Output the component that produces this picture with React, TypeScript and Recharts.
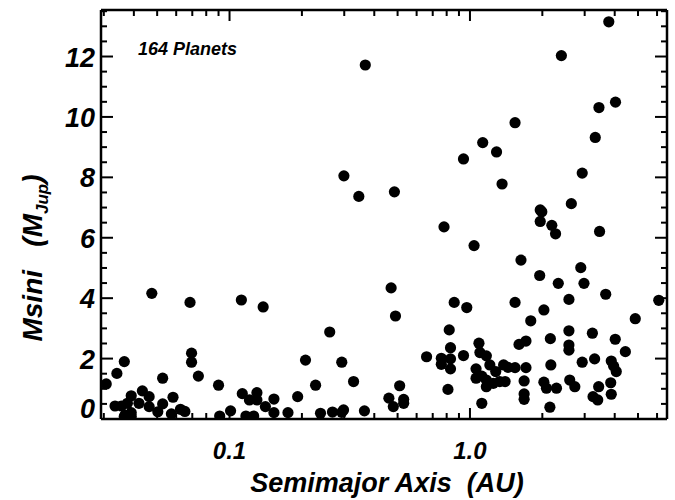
import React from 'react';
import { ScatterChart, Scatter, XAxis, YAxis } from 'recharts';

// semimajor axis (AU) and Msini (M_Jup)
const semiMajorAxis = [
  3.78, 2.40, 0.367, 4.03, 3.44, 1.54, 3.32, 1.13, 1.29, 0.94, 2.93, 0.299, 1.36, 0.345, 0.485,
  2.64, 1.96, 1.99, 1.96, 2.19, 2.27, 3.46, 0.78, 1.04, 1.63, 0.47, 0.49, 2.89, 1.95, 2.33,
  2.98, 3.67, 6.1, 2.58, 0.86, 0.97, 1.54, 2.03, 1.79, 4.87, 0.82, 2.58, 3.23, 2.16, 4.02,
  1.09, 1.71, 1.60, 2.58, 2.58, 4.43, 0.83, 1.10, 1.17, 0.66, 0.76, 0.83, 0.94, 0.76, 3.30,
  2.93, 3.87, 3.96, 4.06, 0.83, 1.21, 1.06, 1.28, 1.38, 1.54, 1.44, 1.71, 1.12, 1.06, 1.17,
  1.25, 1.33, 1.40, 1.68, 2.03, 2.60, 2.73, 1.17, 2.08, 2.29, 3.43, 3.85, 0.81, 1.68, 1.68,
  3.25, 3.40, 3.87, 2.17, 0.51, 0.46, 0.48, 0.53, 0.53, 1.12, 2.15,
  0.0475, 0.0685, 0.112, 0.138, 0.261, 0.0695, 0.0695, 0.0365, 0.034, 0.0307, 0.0527, 0.0742,
  0.207, 0.293, 0.228, 0.328, 0.09, 0.192, 0.039, 0.0434, 0.0463, 0.042, 0.0376, 0.0334,
  0.0355, 0.039, 0.0368, 0.0463, 0.0503, 0.0527, 0.0582, 0.0573, 0.0625, 0.0652, 0.091,
  0.101, 0.113, 0.121, 0.13, 0.13, 0.141, 0.153, 0.153, 0.117, 0.126, 0.175, 0.239, 0.268,
  0.298, 0.293, 0.364, 0.039, 0.0365,
];
const msini = [
  13.15, 12.03, 11.72, 10.49, 10.31, 9.81, 9.32, 9.15, 8.84, 8.61, 8.14, 8.05, 7.78, 7.37, 7.52,
  7.13, 6.92, 6.86, 6.54, 6.41, 6.13, 6.21, 6.36, 5.74, 5.26, 4.34, 3.41, 5.01, 4.75, 4.49,
  4.49, 4.13, 3.93, 3.96, 3.86, 3.69, 3.86, 3.61, 3.25, 3.32, 2.95, 2.92, 2.84, 2.66, 2.64,
  2.51, 2.58, 2.47, 2.45, 2.28, 2.23, 2.36, 2.2, 2.09, 2.06, 2.01, 1.99, 2.1, 1.81, 1.99,
  1.88, 1.92, 1.75, 1.57, 1.66, 1.79, 1.66, 1.57, 1.79, 1.7, 1.71, 1.7, 1.42, 1.35, 1.29,
  1.18, 1.24, 1.24, 1.26, 1.22, 1.29, 1.07, 1.07, 1.02, 1.02, 1.07, 1.2, 0.98, 0.83, 0.65,
  0.74, 0.63, 0.82, 1.79, 1.1, 0.69, 0.41, 0.65, 0.52, 0.52, 0.39,
  4.16, 3.86, 3.94, 3.71, 2.88, 2.18, 1.88, 1.9, 1.51, 1.16, 1.35, 1.42,
  1.95, 1.88, 1.12, 1.24, 1.12, 0.74, 0.77, 0.93, 0.74, 0.52, 0.52, 0.43,
  0.43, 0.21, 0.13, 0.41, 0.24, 0.5, 0.72, 0.17, 0.32, 0.25, 0.1,
  0.27, 0.84, 0.63, 0.87, 0.63, 0.41, 0.66, 0.21, 0.1, 0.1, 0.21, 0.19, 0.23,
  0.3, 0.22, 0.27, 0.08, 0.08,
];

const xMajor = [0.1, 1];
const xTicks = [0.03, 0.04, 0.05, 0.06, 0.07, 0.08, 0.09, 0.1, 0.2, 0.3, 0.4, 0.5, 0.6, 0.7, 0.8, 0.9, 1, 2, 3, 4, 5, 6];
const yTicks = Array.from({ length: 28 }, (_, i) => i * 0.5);

const data = semiMajorAxis.map((a, i) => ({ a, m: msini[i] }));

const W = 675;
const H = 500;
const LEFT = 101;
const RIGHT = 667;
const TOP = 10;
const BOTTOM = 419;
const FONT = '"Liberation Sans", Arial, sans-serif';

const labelStyle = { fontFamily: FONT, fontWeight: 700, fontStyle: 'italic' as const };

function BottomTick({ x, payload }: any) {
  const major = xMajor.includes(payload.value);
  return (
    <g>
      <line x1={x} x2={x} y1={BOTTOM} y2={BOTTOM - (major ? 11 : 6)} stroke="#000" strokeWidth={2} />
      {major && (
        <text x={x} y={BOTTOM + 40} textAnchor="middle" fontSize={24} {...labelStyle}>
          {payload.value === 1 ? '1.0' : '0.1'}
        </text>
      )}
    </g>
  );
}

function TopTick({ x, payload }: any) {
  const major = xMajor.includes(payload.value);
  return <line x1={x} x2={x} y1={TOP} y2={TOP + (major ? 11 : 6)} stroke="#000" strokeWidth={2} />;
}

function LeftTick({ y, payload }: any) {
  const major = payload.value % 2 === 0;
  return (
    <g>
      <line x1={LEFT} x2={LEFT + (major ? 12 : 6)} y1={y} y2={y} stroke="#000" strokeWidth={2} />
      {major && (
        <text x={LEFT - 6} y={payload.value === 0 ? y - 1 : y + 10} textAnchor="end" fontSize={27} {...labelStyle}>
          {payload.value}
        </text>
      )}
    </g>
  );
}

function RightTick({ y, payload }: any) {
  const major = payload.value % 2 === 0;
  return <line x1={RIGHT} x2={RIGHT - (major ? 12 : 6)} y1={y} y2={y} stroke="#000" strokeWidth={2} />;
}

const axisCommon = { stroke: '#000', strokeWidth: 2.5, tickLine: false, interval: 0 as const, allowDataOverflow: true };

export default function App() {
  return (
    <div style={{ position: 'absolute', left: 0, top: 0, width: W, height: H, background: '#fff' }}>
      <ScatterChart
        width={W}
        height={H}
        margin={{ top: TOP - 1, right: W - RIGHT - 1, bottom: H - BOTTOM - 1, left: LEFT - 1 }}
      >
        <XAxis xAxisId="b" dataKey="a" type="number" scale="log" domain={[0.0292, 6.6]}
          ticks={xTicks} height={1} tick={<BottomTick />} {...axisCommon} />
        <XAxis xAxisId="t" dataKey="a" orientation="top" type="number" scale="log" domain={[0.0292, 6.6]}
          ticks={xTicks} height={1} tick={<TopTick />} {...axisCommon} />
        <YAxis yAxisId="l" dataKey="m" type="number" domain={[0, 13.54]}
          ticks={yTicks} width={1} tick={<LeftTick />} {...axisCommon} />
        <YAxis yAxisId="r" dataKey="m" orientation="right" type="number" domain={[0, 13.54]}
          ticks={yTicks} width={1} tick={<RightTick />} {...axisCommon} />
        <Scatter
          xAxisId="t"
          yAxisId="r"
          data={data}
          isAnimationActive={false}
          shape={() => <g />}
        />
        <Scatter
          xAxisId="b"
          yAxisId="l"
          data={data}
          fill="#000"
          isAnimationActive={false}
          shape={(p: any) => <circle cx={p.cx} cy={p.cy} r={5.6} fill="#000" />}
        />
        <text x={138} y={55} fontSize={18} {...labelStyle}>164 Planets</text>
        <text x={387} y={492} textAnchor="middle" fontSize={27} xmlSpace="preserve" {...labelStyle}>
          {'Semimajor Axis  (AU)'}
        </text>
        <text
          transform="translate(42,258) rotate(-90)"
          textAnchor="middle"
          fontSize={28}
          xmlSpace="preserve"
          {...labelStyle}
        >
          {'Msini   (M'}
          <tspan fontSize={17} dy={6}>Jup</tspan>
          <tspan dy={-6}>)</tspan>
        </text>
      </ScatterChart>
    </div>
  );
}
